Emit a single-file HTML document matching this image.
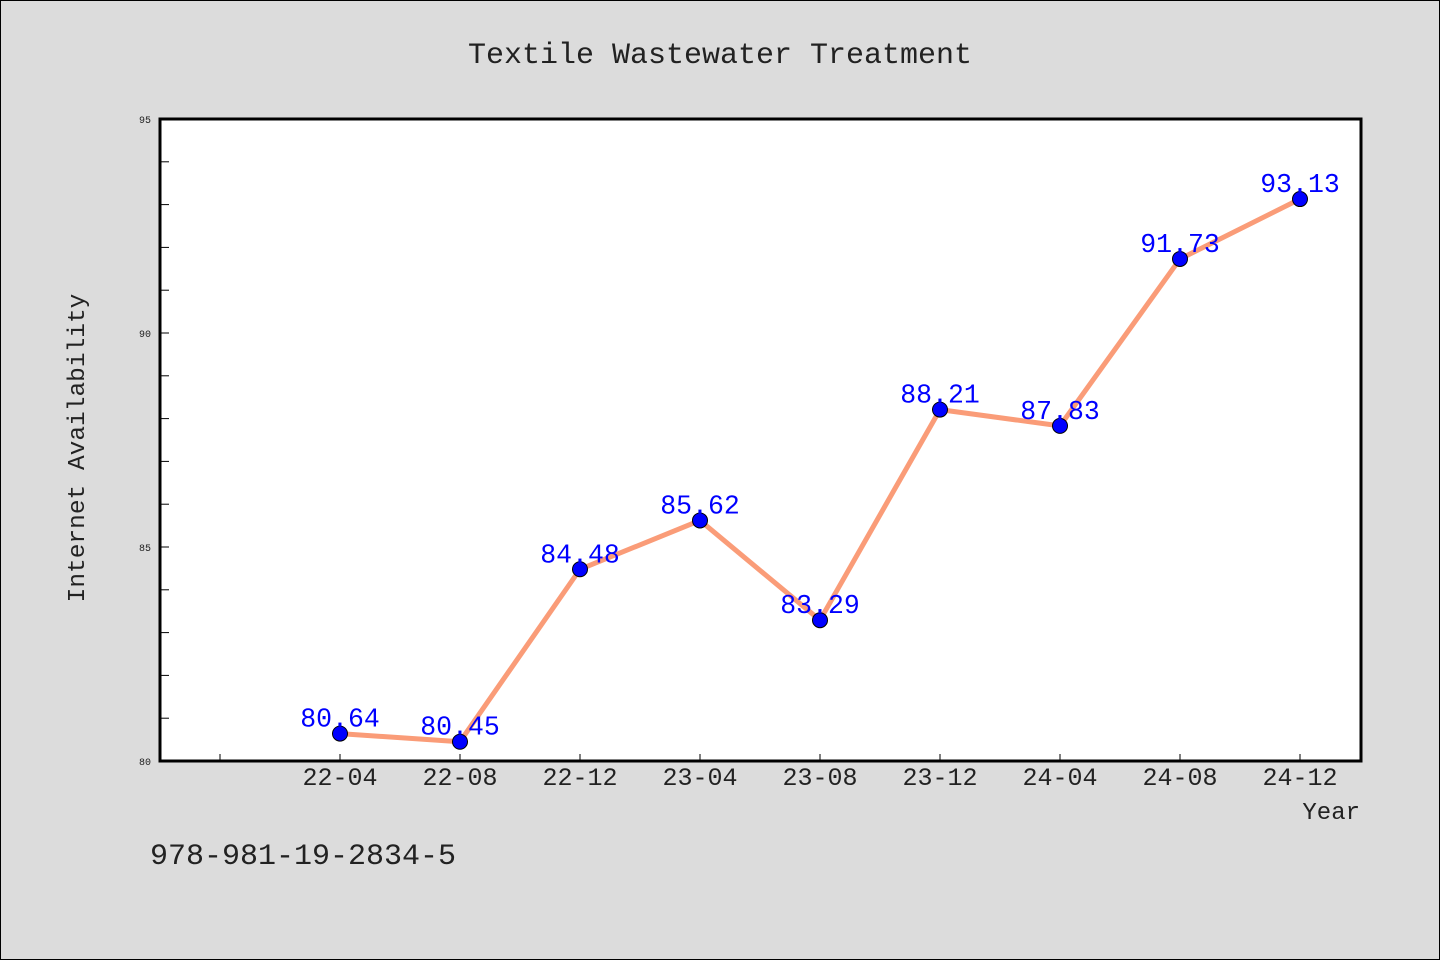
<!DOCTYPE html>
<html><head><meta charset="utf-8"><style>
html,body{margin:0;padding:0;background:#dcdcdc;}
svg{display:block;}
text{font-family:"Liberation Mono","DejaVu Sans Mono",monospace;fill:#222;}
</style></head><body>
<svg id="chart" width="1440" height="960" xmlns="http://www.w3.org/2000/svg">
<rect x="0.5" y="0.5" width="1439" height="959" fill="#dcdcdc" stroke="#000"/>
<text x="720" y="63" font-size="30" text-anchor="middle">Textile Wastewater Treatment</text>
<rect x="160" y="119" width="1201" height="642" fill="#fff"/>
<g id="axes"></g>
<g id="marks"></g>
<rect x="160" y="119" width="1201" height="642" fill="none" stroke="#000" stroke-width="3"/>
<text transform="translate(84,448) rotate(-90)" font-size="24.5" text-anchor="middle">Internet Availability</text>
<text x="1360" y="819" font-size="24" text-anchor="end">Year</text>
<text x="150" y="864" font-size="30">978-981-19-2834-5</text>
</svg>
<script>
const categories = ["22-04","22-08","22-12","23-04","23-08","23-12","24-04","24-08","24-12"];
const values = [80.64,80.45,84.48,85.62,83.29,88.21,87.83,91.73,93.13];
const yTicks = [80,85,90,95];
const yMin = 80, yMax = 95;
const NS = "http://www.w3.org/2000/svg";
function y(v){ return 761 - (v - yMin) / (yMax - yMin) * 642; }
function x(i){ return 340 + 120 * i; }
function mk(tag, attrs, parent){ const e=document.createElementNS(NS,tag); for(const k in attrs) e.setAttribute(k,attrs[k]); parent.appendChild(e); return e; }
const axes = document.getElementById('axes');
const marks = document.getElementById('marks');
for (let v = yMin; v <= yMax; v++) {
  const t = mk('line',{x1:160,x2:169,y1:y(v),y2:y(v),stroke:'#000','stroke-width':1},axes);
  
  
}
yTicks.forEach(v=>{
  const t = mk('text',{x:151,y:y(v)+4,'font-size':10,'text-anchor':'end'},axes);
  t.textContent = v;
  
  
});
for (let i = -1; i < categories.length; i++) {
  const t = mk('line',{x1:x(i),x2:x(i),y1:761,y2:754,stroke:'#000','stroke-width':1},axes);
  
  
}
categories.forEach((c,i)=>{
  const t = mk('text',{x:x(i),y:785,'font-size':25,'text-anchor':'middle'},axes);
  t.textContent = c;
  
  
});
const line = mk('polyline',{points:values.map((v,i)=>x(i)+','+y(v)).join(' '),fill:'none',stroke:'#fa9c78','stroke-width':5,'stroke-linejoin':'round'},marks);


values.forEach((v,i)=>{
  const c = mk('circle',{cx:x(i),cy:y(v),r:7.5,fill:'#0000ff',stroke:'#000','stroke-width':1},marks);
  
  
  const t = mk('text',{x:x(i),y:y(v)-7,'font-size':26.5,'text-anchor':'middle'},marks);
  t.style.fill = '#0000ff';
  t.textContent = v.toFixed(2);
  
  
});
</script>
</body></html>
